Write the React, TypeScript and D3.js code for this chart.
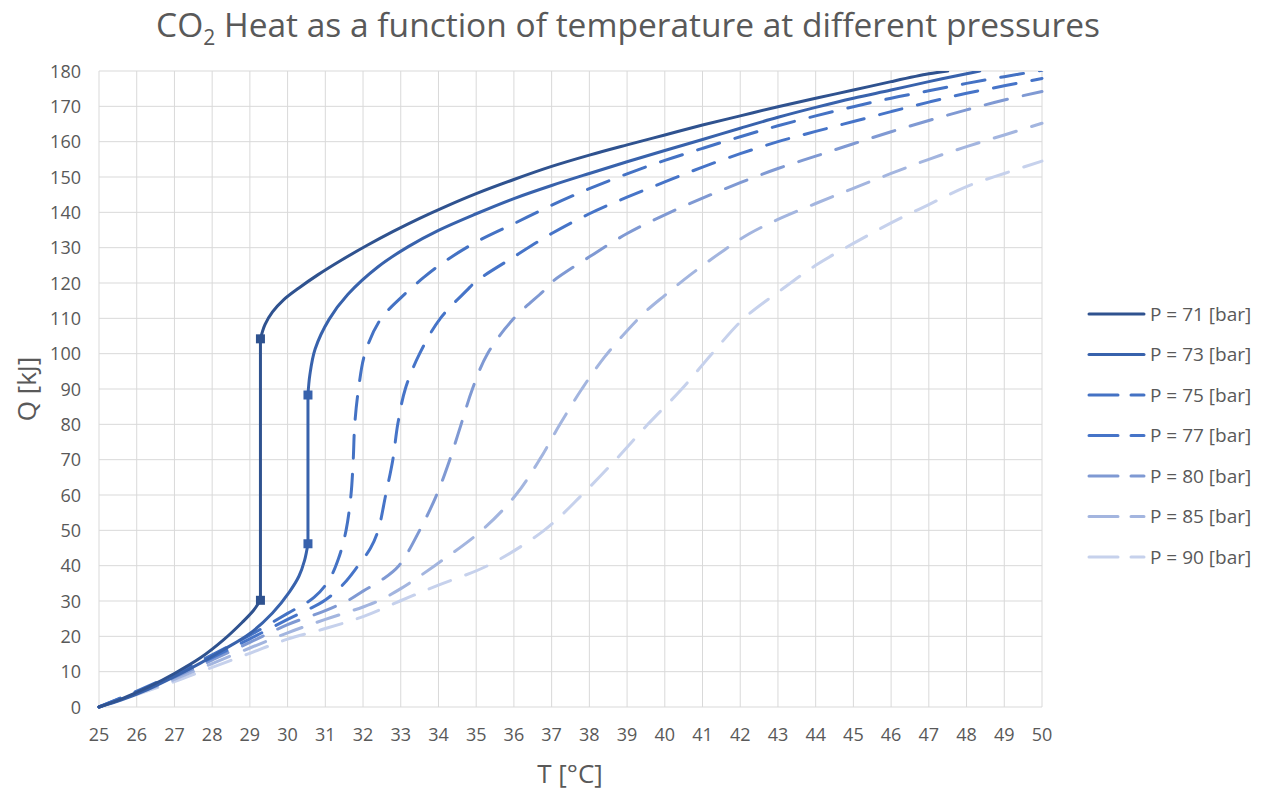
import React from "react";
import * as d3 from "d3";

type Pt = [number, number];

// ---------- data (T [°C], Q [kJ]) ----------
const xTicks = d3.range(25, 51, 1);
const yTicks = d3.range(0, 181, 10);
const seriesLabels = ["P = 71 [bar]", "P = 73 [bar]", "P = 75 [bar]", "P = 77 [bar]", "P = 80 [bar]", "P = 85 [bar]", "P = 90 [bar]"];

const p71Lower: Pt[] = [[25, 0], [25.6, 2.3], [26.3, 5.6], [27, 9.5], [27.7, 14], [28.3, 19], [28.8, 24], [29.1, 27.4], [29.28, 30.2]];
const p71Upper: Pt[] = [[29.28, 104.2], [29.4, 108.2], [29.6, 111.8], [29.9, 115.3], [30.3, 118.6], [30.8, 122.3], [31.4, 126.3], [32.1, 130.6], [32.8, 134.6], [33.5, 138.3], [34.2, 141.7], [35, 145.3], [36, 149.3], [37, 153], [38, 156.2], [39, 159.1], [40, 161.9], [41, 164.7], [42, 167.3], [43, 169.9], [44, 172.3], [45, 174.6], [46, 177], [47, 179.2], [47.5, 180]];
const p71Markers: Pt[] = [[29.28, 30.2], [29.28, 104.2]];

const p73Lower: Pt[] = [[25, 0], [25.6, 2], [26.3, 5], [27, 8.6], [27.7, 12.5], [28.3, 16.2], [29, 20.8], [29.6, 26.6], [30.05, 32.6], [30.3, 37], [30.45, 41.5], [30.54, 46.2]];
const p73Upper: Pt[] = [[30.54, 88.3], [30.59, 94], [30.73, 101.3], [31.1, 109.7], [31.6, 116.8], [32.4, 124.6], [33.2, 130.3], [34, 134.9], [35, 139.6], [36, 143.9], [37, 147.6], [38, 151], [39, 154.3], [40, 157.5], [41, 160.6], [42, 163.8], [43, 166.9], [44, 169.7], [45, 172.3], [46, 174.6], [47, 177], [48, 179.2], [48.35, 180]];
const p73Markers: Pt[] = [[30.54, 46.2], [30.54, 88.3]];

const p75: Pt[] = [[25, 0], [26, 4.5], [27, 9.3], [28, 14.8], [29, 20.3], [30, 26.5], [30.7, 31], [31.1, 36], [31.35, 42], [31.55, 50], [31.68, 60], [31.74, 70], [31.78, 80], [31.88, 90], [32.05, 100], [32.45, 109.5], [33, 115.8], [33.6, 121.5], [34.1, 125.6], [35, 131.6], [36, 136.8], [37, 142], [38, 146.7], [39, 150.9], [40, 154.7], [41, 158.1], [42, 161.4], [43, 164.5], [44, 167.3], [45, 169.9], [46, 172.3], [47, 174.4], [48, 176.5], [49, 178.4], [50, 180.2]];

const p77: Pt[] = [[25, 0], [26, 4.3], [27, 8.9], [28, 14], [29, 19.3], [30, 24.8], [31, 30.3], [31.5, 35], [31.87, 40], [32.2, 45], [32.4, 50], [32.6, 60], [32.79, 70], [32.92, 80], [33.12, 90], [33.5, 100], [34.05, 110], [34.75, 117.9], [35, 120.5], [36, 127.4], [37, 134], [38, 139.6], [39, 144.3], [40, 148.6], [41, 152.8], [42, 156.6], [43, 160], [44, 162.9], [45, 165.7], [46, 168.5], [47, 171.2], [48, 173.7], [49, 175.8], [50, 177.9]];

const p80: Pt[] = [[25, 0], [26, 4.1], [27, 8.4], [28, 13.3], [29, 18.3], [30, 23.3], [31, 27.3], [31.66, 30.5], [32, 32.8], [32.5, 36], [32.95, 40], [33.5, 50], [33.95, 60], [34.3, 70], [34.6, 80], [34.9, 90], [35.3, 100], [36, 110], [36.8, 117.9], [37, 120.2], [38, 127.4], [39, 134], [40, 139.3], [41, 144], [42, 148.4], [43, 152.4], [44, 155.9], [45, 159.4], [46, 162.8], [47, 166], [48, 169], [49, 171.8], [50, 174.2]];

const p85: Pt[] = [[25, 0], [26, 3.8], [27, 7.8], [28, 12.3], [29, 16.7], [30, 21], [31, 24.8], [32, 28.3], [32.4, 30], [33, 33.5], [33.9, 40], [35.15, 50], [36.05, 60], [36.68, 70], [37.22, 80], [37.8, 90], [38.4, 99], [39, 106.5], [39.5, 112], [40, 116.5], [40.7, 122.5], [41.6, 129.5], [42.25, 134], [43, 138], [44, 142.5], [45, 146.8], [46, 151], [47, 155], [48, 158.6], [49, 161.9], [50, 165.2]];

const p90: Pt[] = [[25, 0], [26, 3.5], [27, 7.2], [28, 11.2], [29, 15.2], [30, 19.2], [31, 22.2], [32, 25.6], [32.98, 30], [34, 34.5], [35.3, 40], [36.8, 50], [37.8, 60], [38.7, 70], [39.55, 80], [40.45, 90], [41.25, 100], [42.1, 110], [43.08, 118], [44, 125], [45, 131.2], [46, 137], [47, 142.2], [48, 147.3], [49, 151], [50, 154.5]];

// ---------- styles ----------
const COLORS = ["#2F528F", "#3862AC", "#4472C4", "#4674C8", "#7F99D3", "#A3B5DF", "#C6D1EC"];
const DASHED = [false, false, true, true, true, true, true];
const FONT = "'Open Sans', 'Noto Sans', sans-serif";
const TXT = "#595959";
const GRID = "#D9D9D9";

const W = 1267;
const H = 792;
const X0 = 99, X1 = 1042, Y0 = 707, Y1 = 71;

export default function App() {
  const x = d3.scaleLinear().domain([25, 50]).range([X0, X1]);
  const y = d3.scaleLinear().domain([0, 180]).range([Y0, Y1]);
  const line = d3
    .line<Pt>()
    .x((d) => x(d[0]))
    .y((d) => y(d[1]))
    .curve(d3.curveCatmullRom.alpha(0.5));

  const joined = (lower: Pt[], upper: Pt[]) =>
    (line(lower) || "") + (line(upper) || "").replace(/^M/, "L");

  const paths = [
    joined(p71Lower, p71Upper),
    joined(p73Lower, p73Upper),
    line(p75) || "",
    line(p77) || "",
    line(p80) || "",
    line(p85) || "",
    line(p90) || "",
  ];
  const markers: Pt[][] = [p71Markers, p73Markers];

  const drawOrder = [6, 5, 4, 3, 2, 1, 0];
  const dash = "23 16";
  const legendY0 = 314;
  const legendStep = 40.5;

  return (
    <svg
      width={W}
      height={H}
      style={{ position: "absolute", left: 0, top: 0, background: "#fff" }}
      fontFamily={FONT}
    >
      <rect x={0} y={0} width={W} height={H} fill="#fff" />
      <defs>
        <clipPath id="plotclip">
          <rect x={X0 - 4} y={Y1} width={X1 - X0 + 8} height={Y0 - Y1 + 4} />
        </clipPath>
      </defs>

      {/* title */}
      <text x={628} y={37} textAnchor="middle" fontSize={33.5} fill={TXT}>
        CO
        <tspan fontSize={21} dy={8}>2</tspan>
        <tspan dy={-8}> Heat as a function of temperature at different pressures</tspan>
      </text>

      {/* grid */}
      <g>
        {xTicks.map((t) => (
          <line key={"gx" + t} x1={x(t)} x2={x(t)} y1={Y1} y2={Y0} stroke={GRID} strokeWidth={1} />
        ))}
        {yTicks.map((t) => (
          <line key={"gy" + t} x1={X0} x2={X1} y1={y(t)} y2={y(t)} stroke={GRID} strokeWidth={1} />
        ))}
      </g>

      {/* tick labels */}
      <g fontSize={18} fill={TXT}>
        {xTicks.map((t) => (
          <text key={"tx" + t} x={x(t)} y={741} textAnchor="middle">
            {t}
          </text>
        ))}
        {yTicks.map((t) => (
          <text key={"ty" + t} x={81} y={y(t) + 6.5} textAnchor="end">
            {t}
          </text>
        ))}
      </g>

      {/* axis titles */}
      <text x={570} y={783} textAnchor="middle" fontSize={26} fill={TXT}>
        T [°C]
      </text>
      <text
        transform={`translate(36, ${(Y0 + Y1) / 2}) rotate(-90)`}
        textAnchor="middle"
        fontSize={26}
        fill={TXT}
      >
        Q [kJ]
      </text>

      {/* series */}
      <g clipPath="url(#plotclip)" fill="none">
        {drawOrder.map((i) => (
          <path
            key={"s" + i}
            d={paths[i]}
            stroke={COLORS[i]}
            strokeWidth={3}
            strokeLinecap="round"
            strokeLinejoin="round"
            strokeDasharray={DASHED[i] ? dash : undefined}
          />
        ))}
        {markers.map((m, i) =>
          m.map((p, j) => (
            <rect
              key={`m${i}-${j}`}
              x={x(p[0]) - 4.5}
              y={y(p[1]) - 4.5}
              width={9}
              height={9}
              fill={COLORS[i]}
            />
          ))
        )}
      </g>

      {/* legend */}
      <g>
        {seriesLabels.map((lab, i) => {
          const ly = legendY0 + i * legendStep;
          return (
            <g key={"lg" + i}>
              <line
                x1={1089}
                x2={1144}
                y1={ly}
                y2={ly}
                stroke={COLORS[i]}
                strokeWidth={3}
                strokeLinecap="round"
                strokeDasharray={DASHED[i] ? "29 13" : undefined}
              />
              <text x={1150} y={ly + 6.5} fontSize={19} fill={TXT}>
                {lab}
              </text>
            </g>
          );
        })}
      </g>
    </svg>
  );
}
